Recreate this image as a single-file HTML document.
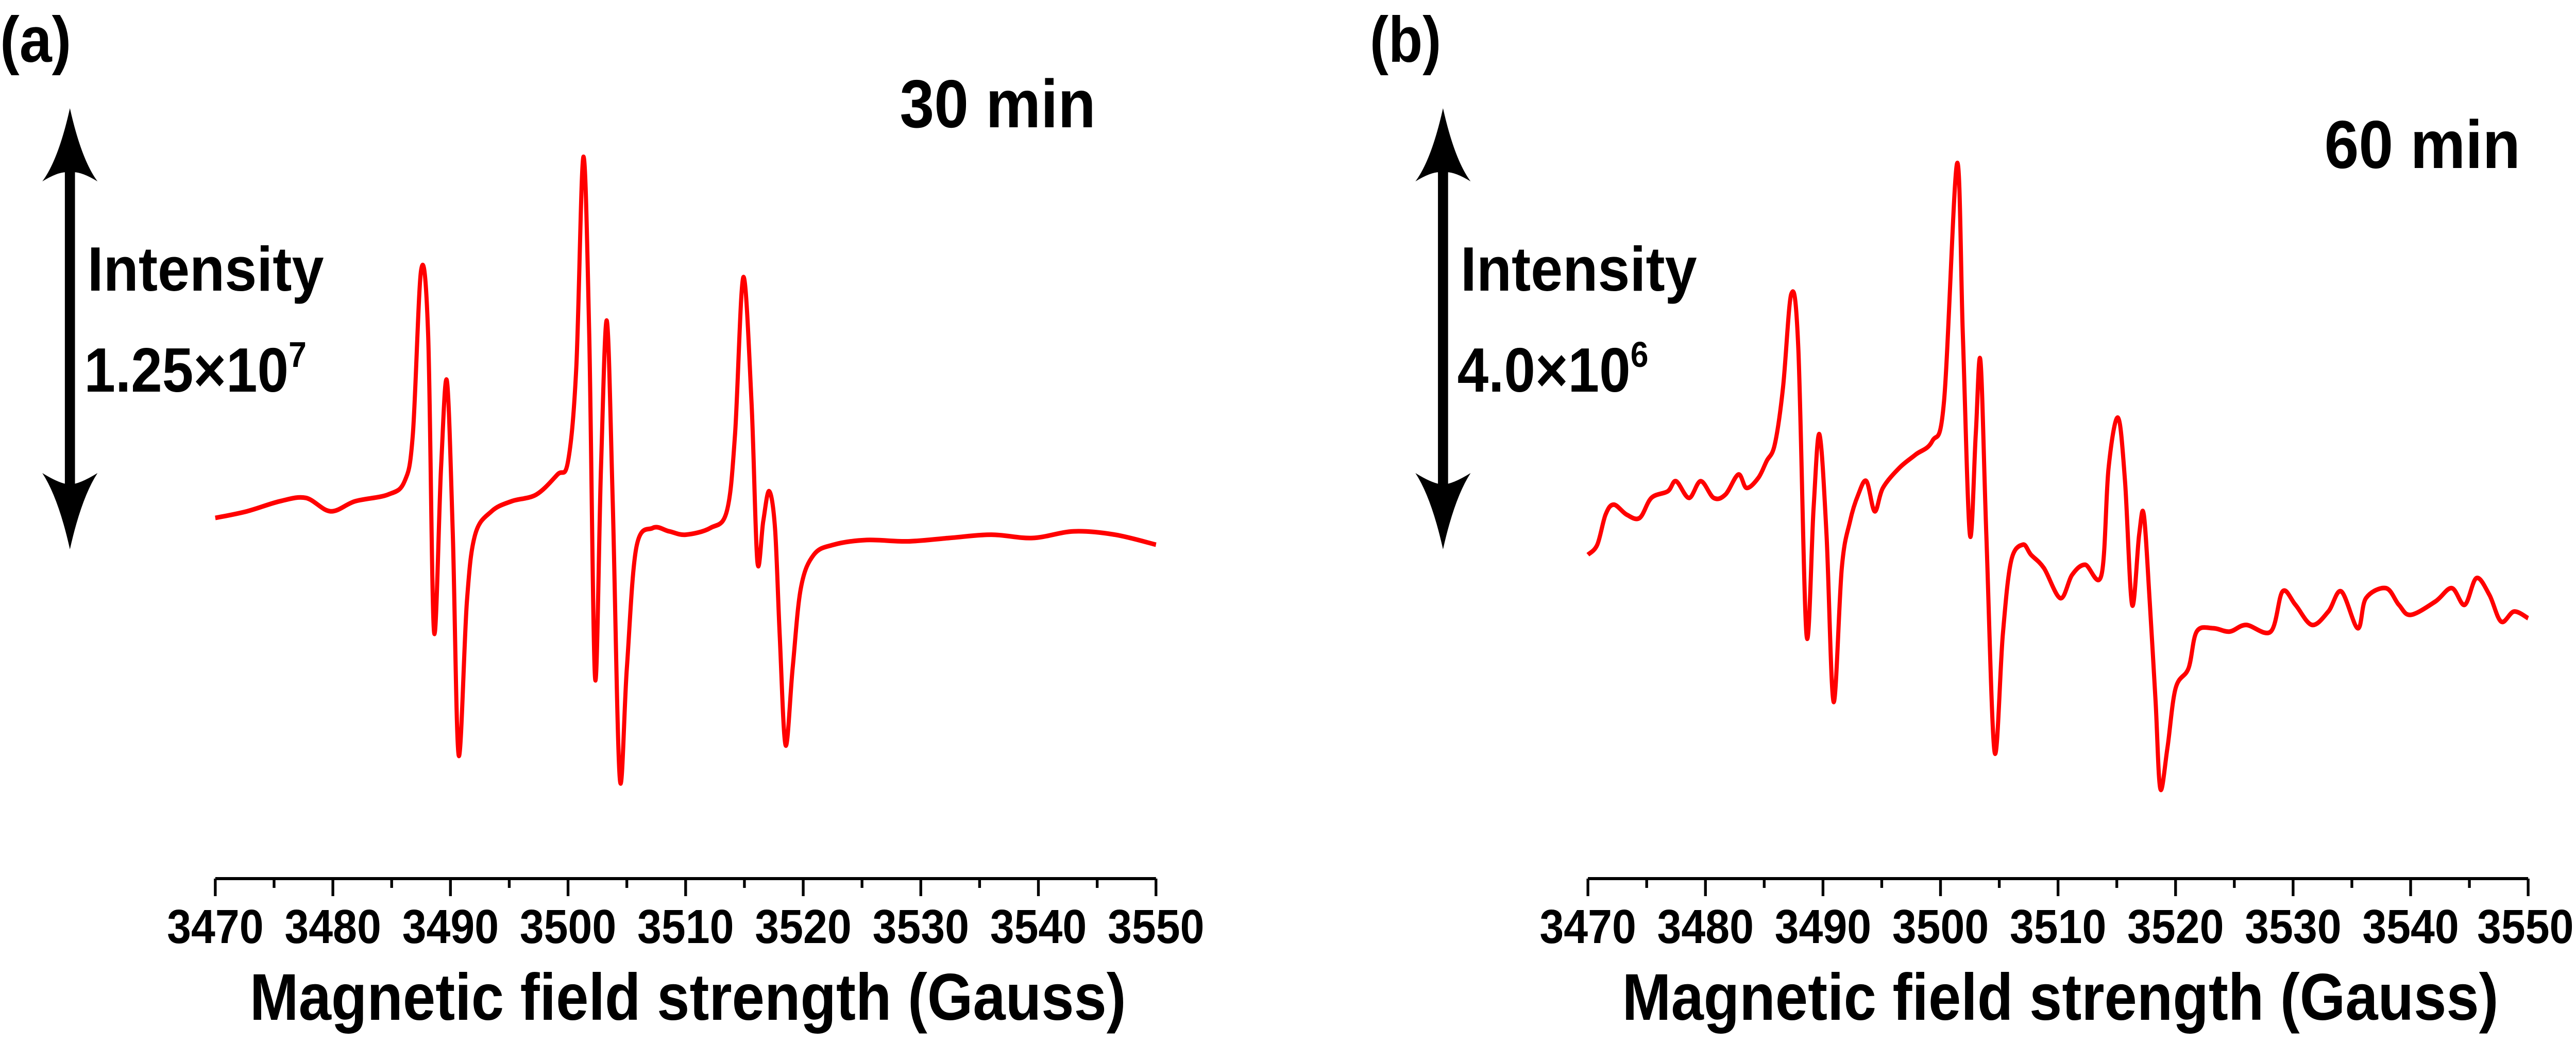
<!DOCTYPE html>
<html><head><meta charset="utf-8"><style>
html,body{margin:0;padding:0;background:#fff;width:100vw;height:100vh;overflow:hidden;}
svg{display:block;width:100vw;height:100vh;}
text{font-family:"Liberation Sans Narrow","Liberation Sans",sans-serif;font-weight:bold;fill:#000;}
</style></head><body>
<svg id="fig" viewBox="0 0 5600 2024" preserveAspectRatio="none" xmlns="http://www.w3.org/2000/svg"></svg>
<script>
const xTicks=[3470,3480,3490,3500,3510,3520,3530,3540,3550];
const fieldA=[3470.0,3472.7,3475.5,3477.7,3479.8,3481.9,3484.7,3486.1,3486.8,3487.5,3488.1,3488.6,3489.2,3489.7,3490.2,3490.7,3491.4,3492.1,3493.5,3495.2,3497.3,3499.1,3500.0,3500.7,3501.3,3501.8,3502.3,3502.8,3503.3,3503.8,3504.4,3505.0,3505.8,3507.2,3508.6,3510.0,3512.1,3513.5,3514.2,3514.9,3515.6,3516.1,3516.6,3517.1,3517.6,3518.0,3518.5,3519.1,3519.8,3520.9,3522.6,3525.4,3528.9,3532.4,3536.0,3539.5,3543.0,3546.5,3550.0];
const ydA=[775,765,750,745,765,750,740,720,650,405,500,945,700,570,800,1130,900,800,765,750,740,710,690,550,235,500,1015,700,480,750,1165,1000,820,790,795,800,790,765,650,415,600,840,780,735,790,950,1115,1000,880,830,815,808,810,805,800,805,795,800,815];
const intensityA=ydA.map(v=>1320-v);
const fieldB=[3470.0,3470.8,3471.5,3472.2,3473.3,3474.4,3475.4,3476.8,3477.5,3478.6,3479.6,3480.7,3481.7,3482.8,3483.5,3484.5,3485.2,3485.9,3486.6,3487.3,3487.9,3488.6,3489.2,3489.7,3490.3,3490.9,3491.6,3492.3,3493.0,3493.7,3494.4,3495.1,3496.5,3497.9,3499.3,3500.3,3501.4,3501.9,3502.5,3503.0,3503.4,3503.9,3504.6,3505.3,3506.0,3507.0,3507.7,3508.8,3510.2,3511.2,3512.3,3513.7,3514.3,3515.1,3515.7,3516.3,3516.9,3517.3,3517.8,3518.3,3518.7,3519.3,3520.0,3521.1,3521.8,3523.2,3524.6,3526.0,3528.1,3529.1,3530.2,3531.6,3533.0,3534.1,3535.5,3536.2,3537.9,3539.0,3540.0,3542.1,3543.5,3544.6,3545.6,3546.7,3547.7,3548.8,3550.0];
const ydB=[830,815,770,755,770,775,745,735,720,745,720,745,740,710,730,715,690,665,580,440,520,950,760,650,800,1050,850,780,740,720,765,730,700,680,660,600,245,500,800,650,540,800,1125,950,840,815,830,850,895,860,845,860,700,625,720,905,800,770,900,1050,1180,1120,1030,1000,945,940,945,935,945,885,905,935,915,885,940,895,880,905,920,900,880,905,865,890,930,915,925];
const intensityB=ydB.map(v=>1320-v);

const NS="http://www.w3.org/2000/svg";
const svg=document.getElementById('fig');
function mk(tag,attrs,parent){const e=document.createElementNS(NS,tag);for(const k in attrs)e.setAttribute(k,attrs[k]);(parent||svg).appendChild(e);return e;}
function smoothPath(pts){
  let d='M'+pts[0][0].toFixed(1)+','+pts[0][1].toFixed(1);
  for(let i=0;i<pts.length-1;i++){
    const p0=pts[Math.max(0,i-1)],p1=pts[i],p2=pts[i+1],p3=pts[Math.min(pts.length-1,i+2)];
    const t=1/6;
    const c1x=p1[0]+(p2[0]-p0[0])*t,c1y=p1[1]+(p2[1]-p0[1])*t;
    const c2x=p2[0]-(p3[0]-p1[0])*t,c2y=p2[1]-(p3[1]-p1[1])*t;
    d+='C'+c1x.toFixed(1)+','+c1y.toFixed(1)+' '+c2x.toFixed(1)+','+c2y.toFixed(1)+' '+p2[0].toFixed(1)+','+p2[1].toFixed(1);
  }
  return d;
}
function panel(id,x0,x1,field,inten,letter,letterX,timeTxt,timeX,timeY,arrowX,scaleTxt,scaleSup){
  const g=mk('g',{});
  
  
  const axY=1705;
  const xs=v=>x0+(v-3470)/(3550-3470)*(x1-x0);
  const ys=v=>1712-v*1.297;
  const ax=mk('line',{x1:x0,y1:axY,x2:x1,y2:axY,stroke:'#000','stroke-width':6},g);
  
  
  for(let t=3470;t<=3550;t+=5){
    const major=(t%10===0);
    const tk=mk('line',{x1:xs(t),y1:axY,x2:xs(t),y2:axY+(major?34:18),stroke:'#000','stroke-width':6},g);
    
    
  }
  xTicks.forEach(t=>{
    const cx=Math.min(xs(t),5600-110);
    const tl=mk('text',{x:cx,y:1830,'text-anchor':'middle','font-size':93,textLength:210,lengthAdjust:'spacingAndGlyphs'},g);
    tl.textContent=t;
    
    
  });
  const tt=mk('text',{x:(x0+x1)/2+5,y:1979,'text-anchor':'middle','font-size':128,textLength:1905,lengthAdjust:'spacingAndGlyphs'},g);
  tt.textContent='Magnetic field strength (Gauss)';
  
  
  const pts=field.map((f,i)=>[xs(f),ys(inten[i])]);
  const p=mk('path',{d:smoothPath(pts),fill:'none',stroke:'#ff0000','stroke-width':9,'stroke-linejoin':'round'},g);
  
  
  const lt=mk('text',{x:letterX,y:120,'font-size':125,textLength:155,lengthAdjust:'spacingAndGlyphs'},g);
  lt.textContent='('+letter+')';
  
  
  const tm=mk('text',{x:timeX,y:timeY,'font-size':132,textLength:426,lengthAdjust:'spacingAndGlyphs'},g);
  tm.textContent=timeTxt;
  
  
  const ar=mk('g',{},g);
  
  
  mk('line',{x1:arrowX,y1:300,x2:arrowX,y2:980,stroke:'#000','stroke-width':22},ar);
  mk('path',{d:`M${arrowX},210 Q${arrowX-25},310 ${arrowX-60},352 Q${arrowX-20},330 ${arrowX},335 Q${arrowX+20},330 ${arrowX+60},352 Q${arrowX+25},310 ${arrowX},210Z`,fill:'#000'},ar);
  mk('path',{d:`M${arrowX},1066 Q${arrowX-25},966 ${arrowX-60},918 Q${arrowX-20},940 ${arrowX},940 Q${arrowX+20},940 ${arrowX+60},918 Q${arrowX+25},966 ${arrowX},1066Z`,fill:'#000'},ar);
  const it=mk('text',{x:arrowX+38,y:564,'font-size':122,textLength:514,lengthAdjust:'spacingAndGlyphs'},g);
  it.textContent='Intensity';
  
  
  const sc=mk('text',{x:arrowX+31,y:760,'font-size':122},g);
  sc.textContent=scaleTxt;
  const sp=mk('tspan',{dy:-48,'font-size':70},sc);
  sp.textContent=scaleSup;
  
  
}
panel('a',468,2513,fieldA,intensityA,'a',0,'30  min',1956,247,152,'1.25×10','7');
panel('b',3452,5496,fieldB,intensityB,'b',2978,'60  min',5053,326,3137,'4.0×10','6');
</script>
</body></html>
